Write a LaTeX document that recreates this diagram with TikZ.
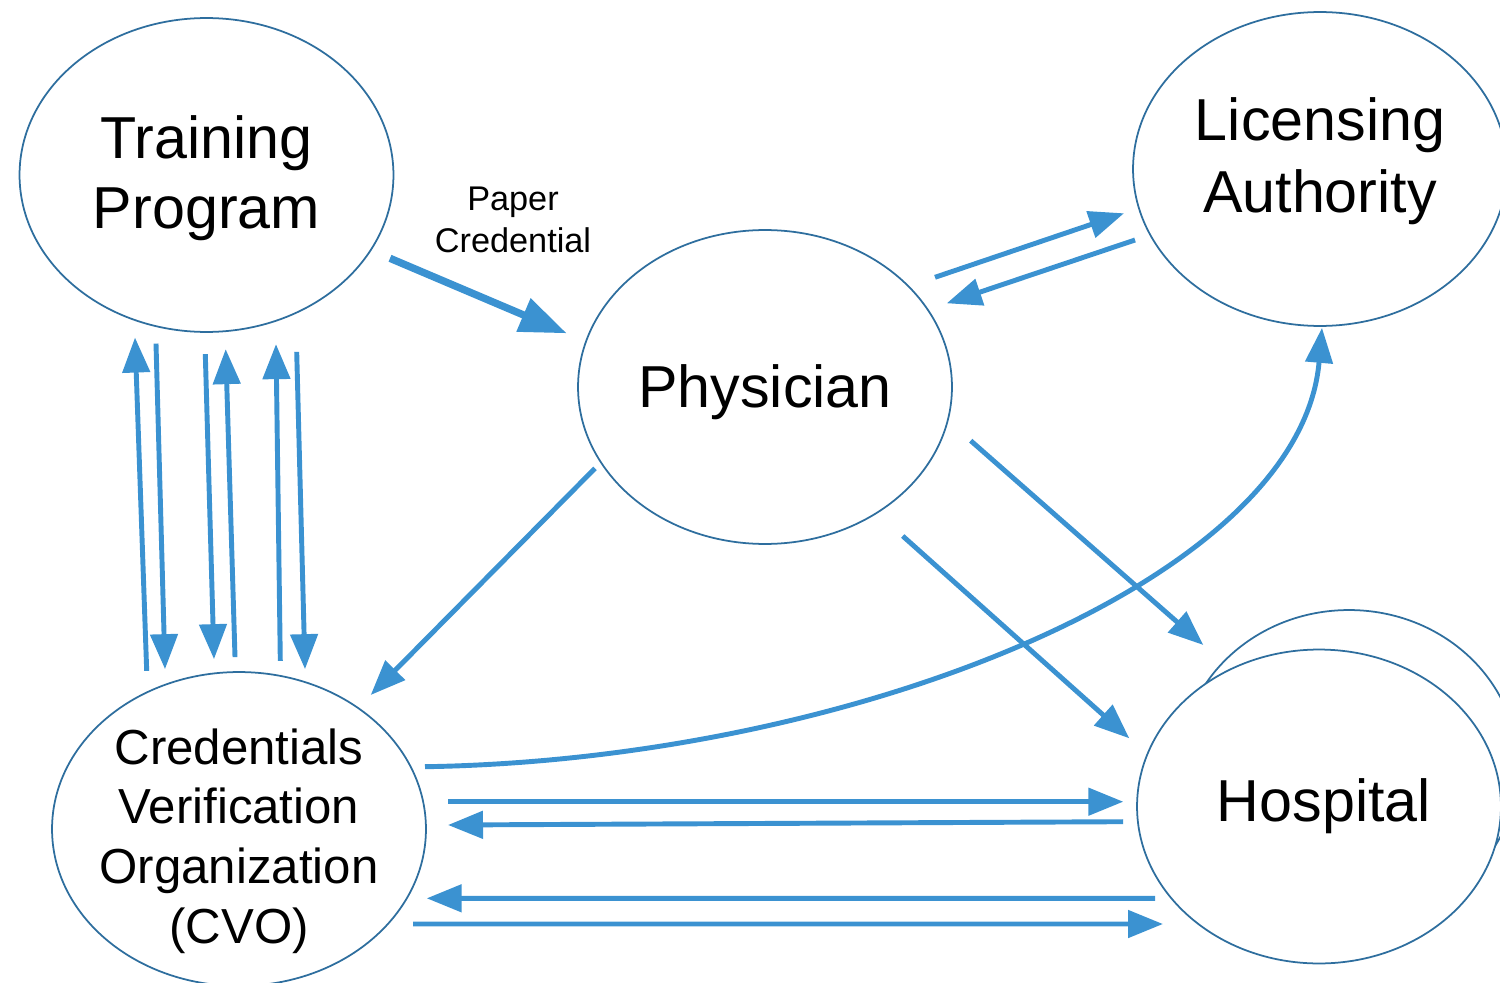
\documentclass[tikz,border=0pt]{standalone}
\usepackage{fontspec}
\setmainfont{Liberation Sans}
\usetikzlibrary{arrows.meta,shapes.geometric,calc}
\definecolor{rim}{HTML}{2E6E9E}
\definecolor{flow}{HTML}{3B92D1}
\begin{document}
\begin{tikzpicture}[x=0.02cm,y=-0.02cm,
  party/.style={ellipse, draw=rim, line width=1pt, fill=white, minimum width=7.48cm, minimum height=6.28cm, inner sep=0pt},
  partytext/.style={align=center, font=\fontsize{33.7}{40}\selectfont},
  flowline/.style={draw=flow, line width=2.8pt, -{Triangle[length=7mm,width=5.4mm]}},
  paperline/.style={draw=flow, line width=4.2pt, -{Triangle[length=9.4mm,width=6.9mm]}}]
\useasboundingbox (0,0) rectangle (1500,983);
\node [party, label={[partytext, yshift=-1.7pt]center:{Training\\Program}}] (train) at (206.5,175) {};
\node [party, label={[partytext, yshift=-2.8pt]center:{Physician}}] (phys) at (765,387) {};
\node [party, label={[partytext, font=\fontsize{33.7}{41}\selectfont, yshift=4.5pt]center:{Licensing\\Authority}}] (lic) at (1320,169) {};
\node [party, label={[partytext, font=\fontsize{28}{34}\selectfont, yshift=-6.8pt]center:{Credentials\\Verification\\Organization\\(CVO)}}] (cvo) at (239,829) {};
\node [party, minimum width=6.76cm] (hosp2) at (1349,767) {};
\node [party, minimum width=7.28cm, label={[partytext, xshift=2.8pt]center:{Hospital}}] (hosp) at (1319,806.5) {};
\node [align=center, font=\fontsize{19.5}{24}\selectfont] (paper) at (513,220) {Paper\\Credential};
% training program and cvo
\draw [flowline] ($(cvo.north)+(-92.3,-0.3)$) -- ($(train.south)+(-71.5,4.7)$);
\draw [flowline] ($(train.south)+(-50.5,10.7)$) -- ($(cvo.north)+(-74,-2)$);
\draw [flowline] ($(train.south)+(-1.2,21.3)$) -- ($(cvo.north)+(-25,-12)$);
\draw [flowline] ($(cvo.north)+(-4,-14)$) -- ($(train.south)+(19.2,16.3)$);
\draw [flowline] ($(cvo.north)+(41.3,-10.3)$) -- ($(train.south)+(69.5,11.3)$);
\draw [flowline] ($(train.south)+(90.2,19)$) -- ($(cvo.north)+(66,-2)$);
% physician
\draw [paperline] ($(train)+(183.5,83.3)$) -- ($(phys)+(-198.3,-53.7)$);
\draw [flowline] ($(phys)+(170,-109.7)$) -- ($(lic)+(-196,44.3)$);
\draw [flowline] ($(lic)+(-185,71)$) -- ($(phys)+(181.7,-83.7)$);
\draw [flowline] ($(phys)+(-170,81.3)$) -- ($(cvo)+(131.7,-134)$);
\draw [flowline] ($(phys)+(205.7,53.7)$) -- ($(hosp2)+(-145.7,-122)$);
\draw [flowline] ($(phys)+(137.7,149)$) -- ($(hosp)+(-189.7,-68.2)$);
% cvo and hospital
\draw [flowline] ($(cvo)+(209,-27.3)$) -- ($(hosp)+(-195.7,-4.8)$);
\draw [flowline] ($(hosp)+(-196,15.2)$) -- ($(cvo)+(209,-4)$);
\draw [flowline] ($(hosp)+(-164,91.8)$) -- ($(cvo)+(187.7,69.3)$);
\draw [flowline] ($(cvo)+(174,95)$) -- ($(hosp)+(-156,117.5)$);
% cvo to licensing authority
\draw [flowline] ($(cvo)+(186,-62.3)$) .. controls +(425,-6.7) and +(-21.7,253.3) .. ($(lic.south)+(2,1)$);
\end{tikzpicture}
\end{document}
